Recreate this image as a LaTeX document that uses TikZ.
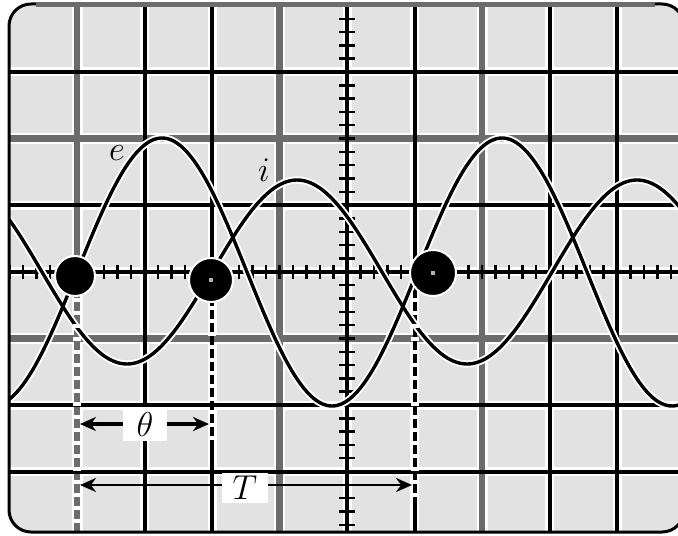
\documentclass[tikz,border=0pt]{standalone}
\usetikzlibrary{arrows.meta}
\definecolor{screen}{HTML}{E2E2E2}
\definecolor{gline}{HTML}{6C6C6C}
\begin{document}
\begin{tikzpicture}[x=0.5pt,y=-0.5pt,
  bhalo/.style={white,line width=4.5pt},
  ghalo/.style={white,line width=5.5pt},
  blk/.style={black,line width=2pt},
  gry/.style={gline,line width=3.2pt},
  tick/.style={black,line width=1.2pt},
  chalo/.style={white,line width=3.6pt},
  curve/.style={black,line width=1.7pt},
  gaps/.style={white,line width=4pt,dash pattern=on 2pt off 4.5pt},
  dot/.style={fill=black,draw=white,line width=1pt},
  speck/.style={fill=gray!60,inner sep=0pt,minimum size=2pt},
  lbl/.style={font=\fontsize{19}{20}\selectfont,inner sep=0pt},
  boxlbl/.style={lbl,fill=white},
  darr/.style={black,line width=1.8pt,-{Stealth[length=8pt,width=7pt]}},
  tarr/.style={black,line width=1.2pt,-{Stealth[length=8pt,width=7pt]}}]
\useasboundingbox (0,0) rectangle (678,535);
\begin{scope}
\clip[rounded corners=11pt] (9,4) rectangle (684,532);
\fill[screen] (0,0) rectangle (700,540);
% grid halos
\foreach \x in {144.5,212,347,414.5,549.5,617} \draw[bhalo] (\x,0) -- (\x,540);
\foreach \x in {77,279.5,482} \draw[ghalo] (\x,0) -- (\x,540);
\foreach \y in {72,205.2,271.8,405,471.6} \draw[bhalo] (0,\y) -- (700,\y);
\foreach \y in {138.6,338.4} \draw[ghalo] (0,\y) -- (700,\y);
% grid lines
\foreach \x in {77,279.5,482} \draw[gry] (\x,0) -- (\x,540);
\foreach \y in {138.6,338.4} \draw[gry] (0,\y) -- (700,\y);
\foreach \x in {144.5,212,347,414.5,549.5,617} \draw[blk] (\x,0) -- (\x,540);
\foreach \y in {72,205.2,271.8,405,471.6} \draw[blk] (0,\y) -- (700,\y);
% axis ticks
\foreach \k in {-5,...,45} \draw[tick] ({77+13.5*\k},264.8) -- ({77+13.5*\k},279);
\foreach \k in {-20,...,20} \draw[tick] (339,{271.8+13.32*\k}) -- (355,{271.8+13.32*\k});
% curves
\draw[chalo] plot[domain=0:690,samples=240] (\x,{272-134*sin(1.0588*(\x-77))});
\draw[chalo] plot[domain=0:690,samples=240] (\x,{272-92*sin(1.0588*(\x-212))});
\draw[curve] plot[domain=0:690,samples=240] (\x,{272-134*sin(1.0588*(\x-77))});
\draw[curve] plot[domain=0:690,samples=240] (\x,{272-92*sin(1.0588*(\x-212))});
% dashed projections (white gaps over grid lines)
\draw[gaps] (77,298) -- (77,532);
\draw[gaps] (212,306) -- (212,440);
\draw[gaps] (414.5,298) -- (414.5,503);
\end{scope}
% frame
\draw[black,line width=1.5pt,rounded corners=11pt] (9,4) rectangle (684,532);
\draw[gline,line width=2.2pt] (36,4.5) -- (655,4.5);
% dots
\node[dot,circle,minimum size=20pt,inner sep=0pt] (d1) at (75,276) {};
\node[dot,circle,minimum size=22pt,inner sep=0pt] (d2) at (211,280) {};
\node[dot,circle,minimum size=23pt,inner sep=0pt] (d3) at (433,273) {};
\node[speck] (s2) at (d2) {};
\node[speck] (s3) at (d3) {};
% labels
\node[lbl] (e) at (117,153) {$e$};
\node[lbl] (i) at (264,170) {$i$};
\node[boxlbl,minimum width=22pt,minimum height=17pt] (th) at (145,424) {$\theta$};
\node[boxlbl,minimum width=23pt,minimum height=15pt] (T) at (245,488) {$T$};
\coordinate (thL) at (80,424);
\coordinate (thR) at (209,424);
\coordinate (TL) at (80,485);
\coordinate (TR) at (412,485);
\draw[darr] (th.west) -- (thL);
\draw[darr] (th.east) -- (thR);
\draw[tarr] (T.west |- TL) -- (TL);
\draw[tarr] (T.east |- TR) -- (TR);
\end{tikzpicture}
\end{document}
